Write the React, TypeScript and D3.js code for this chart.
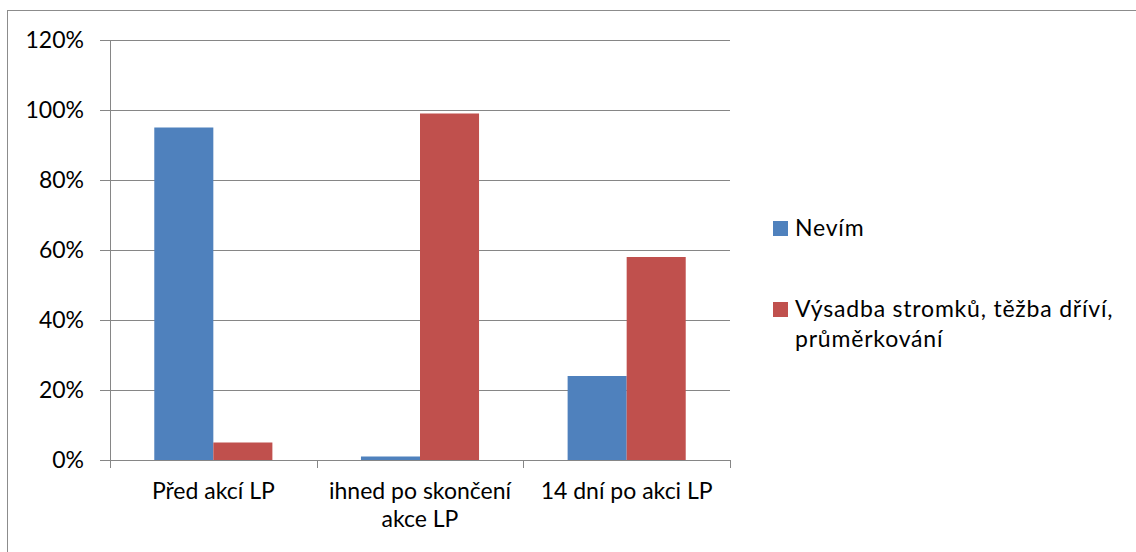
import React from "react";
import * as d3 from "d3";

const categories: string[][] = [["Před akcí LP"], ["ihned po skončení", "akce LP"], ["14 dní po akci LP"]];
const seriesNames = ["Nevím", "Výsadba stromků, těžba dříví,|průměrkování"];
const nevim = [0.95, 0.01, 0.24];
const vysadba = [0.05, 0.99, 0.58];
const yTicks = [0, 0.2, 0.4, 0.6, 0.8, 1.0, 1.2];
const colors = ["#4F81BD", "#C0504D"];

const W = 1136;
const H = 552;
const FONT = "Lato, 'Open Sans', sans-serif";
const FS = 23;

export default function App() {
  const left = 110;
  const right = 730;
  const top = 40;
  const bottom = 460;
  const x = d3.scaleBand<number>().domain(categories.map((_, i) => i)).range([left, right]);
  const y = d3.scaleLinear().domain([0, 1.2]).range([bottom, top]);
  const bw = x.bandwidth() / 3.5;
  const series = [nevim, vysadba];
  const grid = "#868686";
  return (
    <svg width={W} height={H} style={{ position: "absolute", left: 0, top: 0, background: "#fff" }}>
      <rect x={7.5} y={10.5} width={1140} height={560} fill="#fff" stroke="#8c8c8c" strokeWidth={1} />
      {yTicks.map((t) => (
        <g key={t}>
          <line x1={left - 10} x2={right} y1={Math.round(y(t)) + 0.5} y2={Math.round(y(t)) + 0.5} stroke={grid} strokeWidth={1} />
          <text x={84} y={y(t)} dy="0.35em" textAnchor="end" fontFamily={FONT} fontSize={FS} fill="#000">
            {Math.round(t * 100) + "%"}
          </text>
        </g>
      ))}
      {series.map((s, si) =>
        s.map((v, i) => (
          <rect
            key={si + "-" + i}
            x={(x(i) as number) + bw * 0.75 + si * bw}
            y={y(v)}
            width={bw}
            height={bottom - y(v)}
            fill={colors[si]}
          />
        ))
      )}
      <line x1={left + 0.5} x2={left + 0.5} y1={top} y2={bottom} stroke={grid} strokeWidth={1} />
      <line x1={left} x2={right} y1={bottom + 0.5} y2={bottom + 0.5} stroke={grid} strokeWidth={1} />
      {d3.range(categories.length + 1).map((i) => {
        const xx = Math.round(left + i * x.step()) + 0.5;
        return <line key={i} x1={xx} x2={xx} y1={bottom} y2={bottom + 8} stroke={grid} strokeWidth={1} />;
      })}
      {categories.map((lines, i) => (
        <text key={i} textAnchor="middle" fontFamily={FONT} fontSize={FS} fill="#000">
          {lines.map((l, li) => (
            <tspan key={li} x={(x(i) as number) + x.bandwidth() / 2} y={499 + li * 28}>
              {l}
            </tspan>
          ))}
        </text>
      ))}
      {seriesNames.map((name, si) => {
        const ly = [236, 317][si];
        return (
          <g key={si}>
            <rect x={773} y={ly - 15} width={15} height={15} fill={colors[si]} />
            <text fontFamily={FONT} fontSize={FS} fill="#000" letterSpacing={0.8}>
              {name.split("|").map((l, li) => (
                <tspan key={li} x={795} y={ly + li * 30}>
                  {l}
                </tspan>
              ))}
            </text>
          </g>
        );
      })}
    </svg>
  );
}
